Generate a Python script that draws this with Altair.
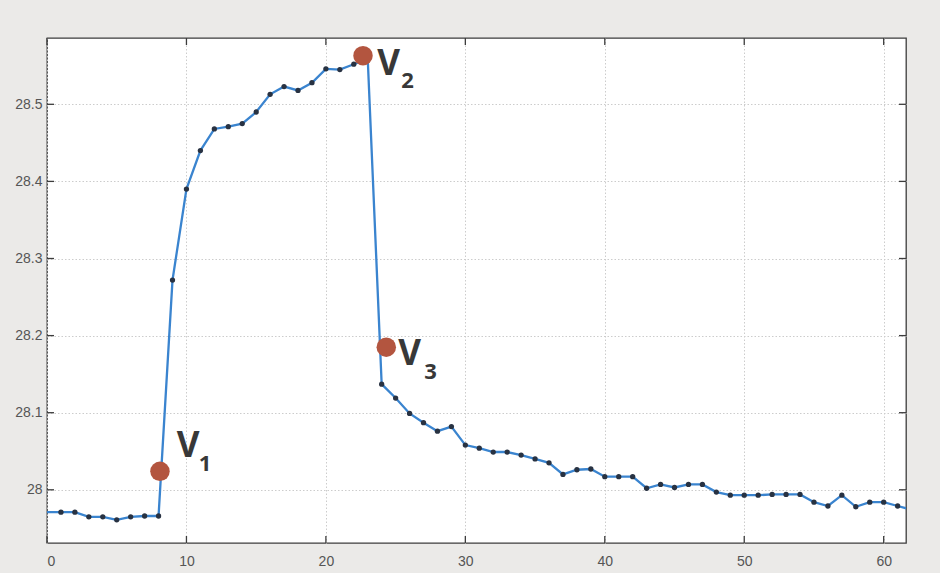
import altair as alt
import pandas as pd

# ---- data ----
x_vals = list(range(63))
y_vals = [
    27.971, 27.971, 27.971, 27.965, 27.965, 27.961, 27.965, 27.966, 27.966,
    28.272, 28.390, 28.440, 28.468, 28.471, 28.475, 28.490, 28.513, 28.523,
    28.518, 28.528, 28.546, 28.545, 28.552, 28.559,
    28.137, 28.119, 28.099, 28.087, 28.076, 28.082, 28.058, 28.054, 28.049,
    28.049, 28.045, 28.040, 28.035,
    28.020, 28.026, 28.027, 28.017, 28.017, 28.017, 28.002, 28.007, 28.003,
    28.007, 28.007, 27.997, 27.993,
    27.993, 27.993, 27.994, 27.994, 27.994, 27.984, 27.979, 27.993, 27.978,
    27.984, 27.984, 27.979, 27.974,
]
x_ticks = [0, 10, 20, 30, 40, 50, 60]
y_ticks = [28.0, 28.1, 28.2, 28.3, 28.4, 28.5]

marker_x = [8.1, 22.66, 24.33]
marker_y = [28.024, 28.563, 28.185]
main_text = ["V", "V", "V"]
main_x = [9.31, 23.68, 25.18]
main_y = [28.0426, 28.538, 28.1615]
sub_text = ["1", "2", "3"]
sub_x = [10.89, 25.4, 27.05]
sub_y = [28.025, 28.521, 28.144]

X_DOMAIN = [0, 61.6]
Y_DOMAIN = [27.931, 28.586]
W, H = 859, 505

xs = alt.Scale(domain=X_DOMAIN, nice=False, zero=False)
ys = alt.Scale(domain=Y_DOMAIN, nice=False, zero=False)

x_axis = alt.Axis(title=None, values=x_ticks, grid=True, ticks=False, domain=False,
                  labelPadding=11, format="d")
y_axis = alt.Axis(title=None, values=y_ticks, grid=True, ticks=False, domain=False,
                  labelPadding=5, format="~g")


def X():
    return alt.X("x:Q", scale=xs, axis=x_axis)


def Y():
    return alt.Y("y:Q", scale=ys, axis=y_axis)


df = pd.DataFrame({"x": x_vals, "y": y_vals})
mk = pd.DataFrame({"x": marker_x, "y": marker_y})
mt = pd.DataFrame({"x": main_x, "y": main_y, "t": main_text})
st = pd.DataFrame({"x": sub_x, "y": sub_y, "t": sub_text})
xt = pd.DataFrame({"x": x_ticks})
yt = pd.DataFrame({"y": y_ticks})

line = alt.Chart(df).mark_line(color="#3a84cf", strokeWidth=2.3, clip=True).encode(x=X(), y=Y())
pts = alt.Chart(df).transform_filter("datum.x > 0 && datum.x < 61.6").mark_circle(
    color="#283242", size=28, opacity=1).encode(x=X(), y=Y())

tick_style = dict(color="#3c3c3c", strokeWidth=1.3)
yl = alt.Chart(yt).mark_rule(**tick_style).encode(y=Y(), x=alt.value(0), x2=alt.value(7))
yr = alt.Chart(yt).mark_rule(**tick_style).encode(y=Y(), x=alt.value(W - 7), x2=alt.value(W))
xb = alt.Chart(xt).mark_rule(**tick_style).encode(x=X(), y=alt.value(H), y2=alt.value(H - 7))
xtp = alt.Chart(xt).mark_rule(**tick_style).encode(x=X(), y=alt.value(0), y2=alt.value(7))

circ = alt.Chart(mk).mark_circle(color="#b3553f", size=380, opacity=1).encode(x=X(), y=Y())
vtxt = alt.Chart(mt).mark_text(font="Open Sans", fontWeight="bold", fontSize=35,
                               align="left", baseline="alphabetic", color="#383838").encode(
    x=X(), y=Y(), text="t:N")
stxt = alt.Chart(st).mark_text(font="Open Sans", fontWeight="bold", fontSize=22,
                               align="left", baseline="alphabetic", color="#383838").encode(
    x=X(), y=Y(), text="t:N")

chart = alt.layer(line, pts, yl, yr, xb, xtp, circ, vtxt, stxt).properties(
    width=W, height=H,
    autosize=alt.AutoSizeParams(type="none"),
    padding={"left": 47, "top": 38, "right": 34, "bottom": 30},
    background="#ebeae8",
).configure_view(
    stroke="#3c3c3c", strokeWidth=1.3, fill="white"
).configure_axis(
    gridColor="#cccccc", gridDash=[1.5, 2], gridWidth=1,
    labelFont="Liberation Sans", labelFontSize=14, labelColor="#555555",
)

chart.save("out.html", embed_options={"renderer": "svg", "actions": False})
